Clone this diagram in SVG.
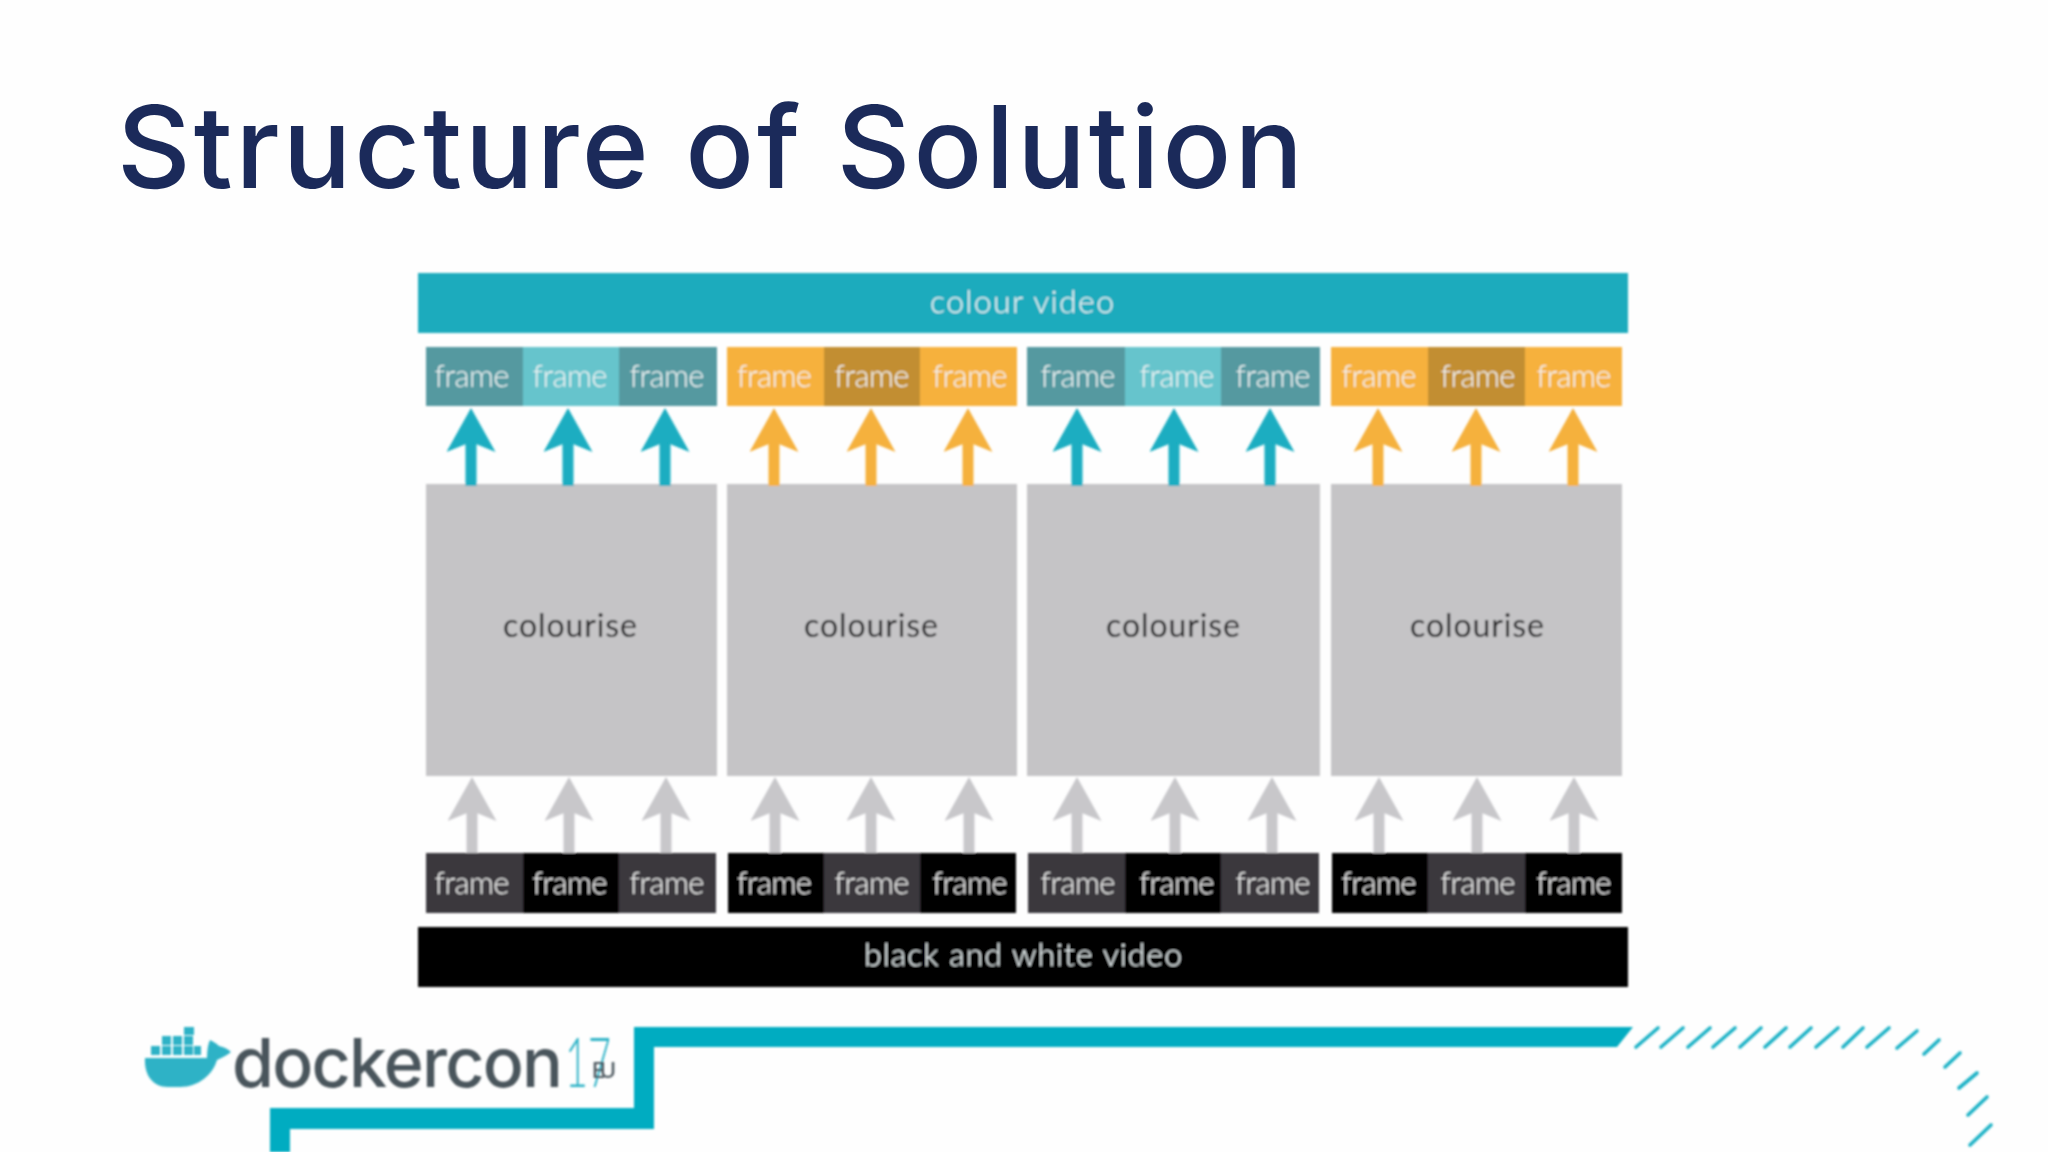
<svg xmlns="http://www.w3.org/2000/svg" width="2048" height="1152" viewBox="0 0 2048 1152">
<style>
.t{font-family:"Lato","Liberation Sans",sans-serif;font-weight:300;text-anchor:middle}
.fr{font-size:31px;fill:#f2f7f7}
.bw{fill:#f2f2f2}
.big{font-size:32px;fill:#f0f9fa}
.col{font-size:32px;fill:#1a1a1e;font-weight:400}
.teal{fill:#5499a0}.ltl{fill:#66c4cc}.org{fill:#f6b13d}.dor{fill:#c28e31}.drk{fill:#3a393c}.blk{fill:#020204}.gry{fill:#c5c4c6}.bar{fill:#1babbd}
.a{stroke-width:11;fill:none}
.at{stroke:#1aadc1}.ao{stroke:#f5b13e}.ag{stroke:#c8c7ca}
.d{stroke:#1fb2c6;stroke-width:3.6;stroke-linecap:round}
.s{fill:#00acc1}
.c{fill:#2db2c6}
</style>
<defs>
<filter id="soft" filterUnits="userSpaceOnUse" x="0" y="0" width="2048" height="1152"><feGaussianBlur stdDeviation="0.9"/></filter>
<marker id="mt" markerUnits="userSpaceOnUse" markerWidth="44" markerHeight="49" refX="10" refY="24.5" orient="auto"><path d="M44 24.5L0 0L10 24.5L0 49Z" fill="#1aadc1"/></marker>
<marker id="mo" markerUnits="userSpaceOnUse" markerWidth="44" markerHeight="49" refX="10" refY="24.5" orient="auto"><path d="M44 24.5L0 0L10 24.5L0 49Z" fill="#f5b13e"/></marker>
<marker id="mg" markerUnits="userSpaceOnUse" markerWidth="44" markerHeight="49" refX="10" refY="24.5" orient="auto"><path d="M44 24.5L0 0L10 24.5L0 49Z" fill="#c8c7ca"/></marker>
</defs>
<rect width="2048" height="1152" fill="#fefefe"/>
<text id="title" x="117" y="188" font-family="Inter,'Open Sans',sans-serif" font-size="114" font-weight="500" fill="#1b2a5a" textLength="1186">Structure of Solution</text>
<g filter="url(#soft)">
<g id="colour-video"><rect class="bar" x="418" y="273" width="1210" height="60"/><text class="t big" x="1022" y="313" textLength="184">colour video</text></g>
<g id="top-frames">
<g id="cf1"><rect class="teal" x="426" y="347" width="97" height="59"/><text class="t fr" x="472" y="387" textLength="75">frame</text></g>
<g id="cf2"><rect class="ltl" x="523" y="347" width="96" height="59"/><text class="t fr" x="570" y="387" textLength="75">frame</text></g>
<g id="cf3"><rect class="teal" x="619" y="347" width="98" height="59"/><text class="t fr" x="667" y="387" textLength="75">frame</text></g>
<g id="cf4"><rect class="org" x="727" y="347" width="97" height="59"/><text class="t fr" x="774.500" y="387" textLength="75">frame</text></g>
<g id="cf5"><rect class="dor" x="824" y="347" width="96" height="59"/><text class="t fr" x="872" y="387" textLength="75">frame</text></g>
<g id="cf6"><rect class="org" x="920" y="347" width="97" height="59"/><text class="t fr" x="970" y="387" textLength="75">frame</text></g>
<g id="cf7"><rect class="teal" x="1027" y="347" width="98" height="59"/><text class="t fr" x="1078" y="387" textLength="75">frame</text></g>
<g id="cf8"><rect class="ltl" x="1125" y="347" width="96" height="59"/><text class="t fr" x="1177" y="387" textLength="75">frame</text></g>
<g id="cf9"><rect class="teal" x="1221" y="347" width="99" height="59"/><text class="t fr" x="1273" y="387" textLength="75">frame</text></g>
<g id="cf10"><rect class="org" x="1331" y="347" width="97" height="59"/><text class="t fr" x="1379" y="387" textLength="75">frame</text></g>
<g id="cf11"><rect class="dor" x="1428" y="347" width="97" height="59"/><text class="t fr" x="1478" y="387" textLength="75">frame</text></g>
<g id="cf12"><rect class="org" x="1525" y="347" width="97" height="59"/><text class="t fr" x="1574" y="387" textLength="75">frame</text></g>
</g>
<g id="colourise-boxes">
<g id="box1"><rect class="gry" x="426" y="484" width="291" height="292"/><text class="t col" x="570" y="637" textLength="134">colourise</text></g>
<g id="box2"><rect class="gry" x="727" y="484" width="290" height="292"/><text class="t col" x="871" y="637" textLength="134">colourise</text></g>
<g id="box3"><rect class="gry" x="1027" y="484" width="293" height="292"/><text class="t col" x="1173" y="637" textLength="134">colourise</text></g>
<g id="box4"><rect class="gry" x="1331" y="484" width="291" height="292"/><text class="t col" x="1477" y="637" textLength="134">colourise</text></g>
</g>
<g id="connectors">
<line class="a at" x1="471" y1="486" x2="471" y2="442" marker-end="url(#mt)"/>
<line class="a at" x1="568" y1="486" x2="568" y2="442" marker-end="url(#mt)"/>
<line class="a at" x1="665" y1="486" x2="665" y2="442" marker-end="url(#mt)"/>
<line class="a ao" x1="774" y1="486" x2="774" y2="442" marker-end="url(#mo)"/>
<line class="a ao" x1="871" y1="486" x2="871" y2="442" marker-end="url(#mo)"/>
<line class="a ao" x1="968" y1="486" x2="968" y2="442" marker-end="url(#mo)"/>
<line class="a at" x1="1077" y1="486" x2="1077" y2="442" marker-end="url(#mt)"/>
<line class="a at" x1="1174" y1="486" x2="1174" y2="442" marker-end="url(#mt)"/>
<line class="a at" x1="1270" y1="486" x2="1270" y2="442" marker-end="url(#mt)"/>
<line class="a ao" x1="1378" y1="486" x2="1378" y2="442" marker-end="url(#mo)"/>
<line class="a ao" x1="1476" y1="486" x2="1476" y2="442" marker-end="url(#mo)"/>
<line class="a ao" x1="1573" y1="486" x2="1573" y2="442" marker-end="url(#mo)"/>
<line class="a ag" x1="472" y1="853" x2="472" y2="811" marker-end="url(#mg)"/>
<line class="a ag" x1="569" y1="853" x2="569" y2="811" marker-end="url(#mg)"/>
<line class="a ag" x1="666" y1="853" x2="666" y2="811" marker-end="url(#mg)"/>
<line class="a ag" x1="775" y1="853" x2="775" y2="811" marker-end="url(#mg)"/>
<line class="a ag" x1="871" y1="853" x2="871" y2="811" marker-end="url(#mg)"/>
<line class="a ag" x1="969" y1="853" x2="969" y2="811" marker-end="url(#mg)"/>
<line class="a ag" x1="1077" y1="853" x2="1077" y2="811" marker-end="url(#mg)"/>
<line class="a ag" x1="1175" y1="853" x2="1175" y2="811" marker-end="url(#mg)"/>
<line class="a ag" x1="1272" y1="853" x2="1272" y2="811" marker-end="url(#mg)"/>
<line class="a ag" x1="1379" y1="853" x2="1379" y2="811" marker-end="url(#mg)"/>
<line class="a ag" x1="1477" y1="853" x2="1477" y2="811" marker-end="url(#mg)"/>
<line class="a ag" x1="1574" y1="853" x2="1574" y2="811" marker-end="url(#mg)"/>
</g>
<g id="bottom-frames">
<g id="bf1"><rect class="drk" x="426" y="853" width="97" height="60"/><text class="t fr bw" x="472" y="894" textLength="75">frame</text></g>
<g id="bf2"><rect class="blk" x="523" y="853" width="96" height="60"/><text class="t fr bw" x="570" y="894" textLength="75">frame</text></g>
<g id="bf3"><rect class="drk" x="619" y="853" width="97" height="60"/><text class="t fr bw" x="667" y="894" textLength="75">frame</text></g>
<g id="bf4"><rect class="blk" x="728" y="853" width="96" height="60"/><text class="t fr bw" x="774.500" y="894" textLength="75">frame</text></g>
<g id="bf5"><rect class="drk" x="824" y="853" width="96" height="60"/><text class="t fr bw" x="872" y="894" textLength="75">frame</text></g>
<g id="bf6"><rect class="blk" x="920" y="853" width="96" height="60"/><text class="t fr bw" x="970" y="894" textLength="75">frame</text></g>
<g id="bf7"><rect class="drk" x="1028" y="853" width="97" height="60"/><text class="t fr bw" x="1078" y="894" textLength="75">frame</text></g>
<g id="bf8"><rect class="blk" x="1125" y="853" width="96" height="60"/><text class="t fr bw" x="1177" y="894" textLength="75">frame</text></g>
<g id="bf9"><rect class="drk" x="1221" y="853" width="98" height="60"/><text class="t fr bw" x="1273" y="894" textLength="75">frame</text></g>
<g id="bf10"><rect class="blk" x="1332" y="853" width="96" height="60"/><text class="t fr bw" x="1379" y="894" textLength="75">frame</text></g>
<g id="bf11"><rect class="drk" x="1428" y="853" width="97" height="60"/><text class="t fr bw" x="1478" y="894" textLength="75">frame</text></g>
<g id="bf12"><rect class="blk" x="1525" y="853" width="97" height="60"/><text class="t fr bw" x="1574" y="894" textLength="75">frame</text></g>
</g>
<g id="bw-video"><rect class="blk" x="418" y="927" width="1210" height="60"/><text class="t big bw" x="1023" y="966" textLength="318">black and white video</text></g>
<g id="footer">
<path class="s" d="M270 1152V1108H634V1027H1633L1617 1047H654V1129H290V1152Z"/>
<g id="dashes">
<line class="d" x1="1636" y1="1047" x2="1658" y2="1028"/>
<line class="d" x1="1661" y1="1047" x2="1683" y2="1028"/>
<line class="d" x1="1688" y1="1047" x2="1710" y2="1028"/>
<line class="d" x1="1713" y1="1047" x2="1735" y2="1028"/>
<line class="d" x1="1740" y1="1047" x2="1761" y2="1028"/>
<line class="d" x1="1765" y1="1047" x2="1786" y2="1028"/>
<line class="d" x1="1790" y1="1047" x2="1811" y2="1028"/>
<line class="d" x1="1816" y1="1047" x2="1838" y2="1028"/>
<line class="d" x1="1843" y1="1047" x2="1863" y2="1028"/>
<line class="d" x1="1867" y1="1047" x2="1889" y2="1028"/>
<line class="d" x1="1897" y1="1048" x2="1917" y2="1031"/>
<line class="d" x1="1924" y1="1054" x2="1939" y2="1040"/>
<line class="d" x1="1945" y1="1067" x2="1960" y2="1053"/>
<line class="d" x1="1959" y1="1088" x2="1977" y2="1073"/>
<line class="d" x1="1968" y1="1115" x2="1987" y2="1097"/>
<line class="d" x1="1970" y1="1145" x2="1991" y2="1125"/>
</g>
<g id="logo">
<path class="c" d="M145 1058H207C207 1050 208 1044 210 1040C214 1042 217 1044 219 1046C224 1047 228 1049 231 1052C226 1056 221 1058 217 1060C213 1074 199 1087 180 1087H168C152 1087 144 1074 145 1058Z"/>
<g class="c">
<rect x="151" y="1046" width="9" height="9"/><rect x="162" y="1046" width="9" height="9"/><rect x="173" y="1046" width="9" height="9"/><rect x="184" y="1046" width="9" height="9"/><rect x="194" y="1046" width="7" height="9"/>
<rect x="162" y="1036" width="9" height="9"/><rect x="173" y="1036" width="9" height="9"/><rect x="184" y="1036" width="9" height="9"/>
<rect x="184" y="1027" width="10" height="8"/>
</g>
<text x="232" y="1087" font-family="Inter,'Open Sans',sans-serif" font-size="68" font-weight="500" fill="#4a555c" textLength="331">dockercon</text>
<text x="565" y="1087" font-family="Lato,'Liberation Sans',sans-serif" font-size="68" font-weight="300" fill="#2db2c6" textLength="46" lengthAdjust="spacingAndGlyphs">17</text>
<text x="592" y="1078" font-family="Inter,'Liberation Sans',sans-serif" font-size="22" font-weight="500" fill="#4a555c" textLength="24">EU</text>
</g>
</g>
</g>
</svg>
